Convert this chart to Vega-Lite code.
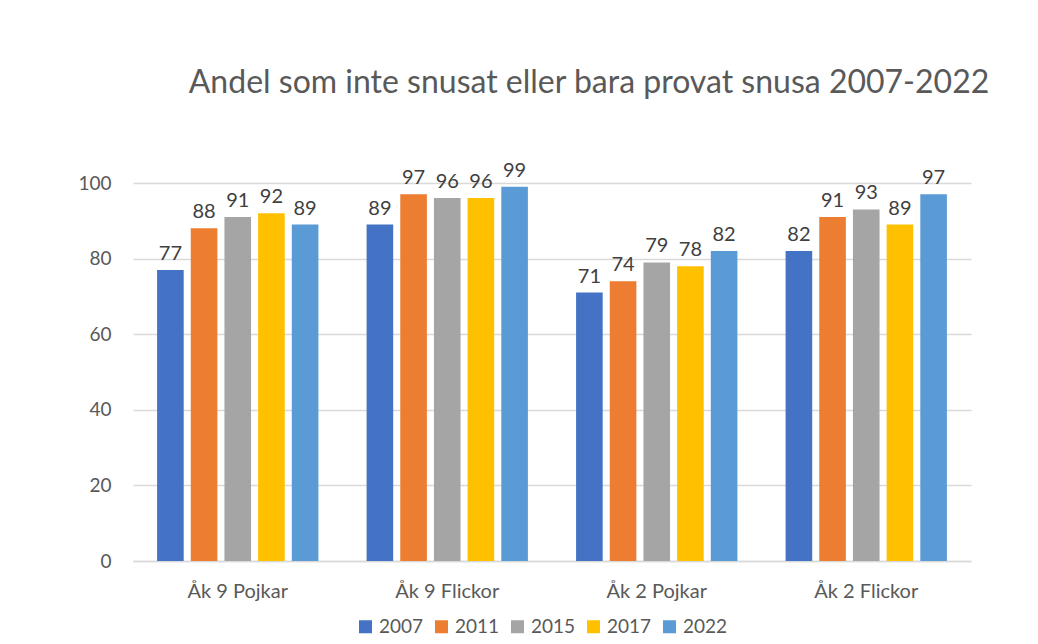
{
  "$schema": "https://vega.github.io/schema/vega-lite/v6.json",
  "autosize": {"type": "none"},
  "width": 838,
  "height": 378,
  "padding": {"left": 133, "top": 183, "right": 67, "bottom": 83},
  "background": "white",
  "title": {
    "text": "Andel som inte snusat eller bara provat snusa 2007-2022",
    "font": "Lato",
    "fontSize": 32,
    "fontWeight": "normal",
    "color": "#595959",
    "anchor": "middle",
    "frame": "group",
    "dx": 37,
    "offset": 61
  },
  "data": {
    "values": [
      {"grupp": "Åk 9 Pojkar", "år": "2007", "andel": 77},
      {"grupp": "Åk 9 Pojkar", "år": "2011", "andel": 88},
      {"grupp": "Åk 9 Pojkar", "år": "2015", "andel": 91},
      {"grupp": "Åk 9 Pojkar", "år": "2017", "andel": 92},
      {"grupp": "Åk 9 Pojkar", "år": "2022", "andel": 89},
      {"grupp": "Åk 9 Flickor", "år": "2007", "andel": 89},
      {"grupp": "Åk 9 Flickor", "år": "2011", "andel": 97},
      {"grupp": "Åk 9 Flickor", "år": "2015", "andel": 96},
      {"grupp": "Åk 9 Flickor", "år": "2017", "andel": 96},
      {"grupp": "Åk 9 Flickor", "år": "2022", "andel": 99},
      {"grupp": "Åk 2 Pojkar", "år": "2007", "andel": 71},
      {"grupp": "Åk 2 Pojkar", "år": "2011", "andel": 74},
      {"grupp": "Åk 2 Pojkar", "år": "2015", "andel": 79},
      {"grupp": "Åk 2 Pojkar", "år": "2017", "andel": 78},
      {"grupp": "Åk 2 Pojkar", "år": "2022", "andel": 82},
      {"grupp": "Åk 2 Flickor", "år": "2007", "andel": 82},
      {"grupp": "Åk 2 Flickor", "år": "2011", "andel": 91},
      {"grupp": "Åk 2 Flickor", "år": "2015", "andel": 93},
      {"grupp": "Åk 2 Flickor", "år": "2017", "andel": 89},
      {"grupp": "Åk 2 Flickor", "år": "2022", "andel": 97}
    ]
  },
  "encoding": {
    "x": {
      "field": "grupp",
      "type": "nominal",
      "sort": ["Åk 9 Pojkar", "Åk 9 Flickor", "Åk 2 Pojkar", "Åk 2 Flickor"],
      "scale": {"paddingInner": 0.23, "paddingOuter": 0.115},
      "axis": {
        "title": null,
        "labelAngle": 0,
        "labelFont": "Lato",
        "labelFontSize": 20,
        "labelColor": "#595959",
        "labelPadding": 20,
        "ticks": false,
        "domain": true,
        "domainColor": "#D9D9D9",
        "domainWidth": 1.5,
        "grid": false
      }
    },
    "xOffset": {
      "field": "år",
      "type": "nominal",
      "scale": {"paddingInner": 0.21, "paddingOuter": 0}
    },
    "y": {
      "field": "andel",
      "type": "quantitative",
      "scale": {"domain": [0, 100], "nice": false},
      "axis": {
        "title": null,
        "values": [0, 20, 40, 60, 80, 100],
        "labelFont": "Lato",
        "labelFontSize": 19,
        "labelColor": "#595959",
        "labelPadding": 22,
        "ticks": false,
        "domain": false,
        "grid": true,
        "gridColor": "#D9D9D9",
        "gridWidth": 1.5
      }
    }
  },
  "layer": [
    {
      "mark": {"type": "bar"},
      "encoding": {
        "color": {
          "field": "år",
          "type": "nominal",
          "scale": {
            "domain": ["2007", "2011", "2015", "2017", "2022"],
            "range": ["#4472C4", "#ED7D31", "#A5A5A5", "#FFC000", "#5B9BD5"]
          },
          "legend": {
            "title": null,
            "orient": "none",
            "legendX": 223,
            "legendY": 434,
            "direction": "horizontal",
            "symbolType": "square",
            "symbolSize": 169,
            "symbolStrokeWidth": 0,
            "symbolOpacity": 1,
            "labelFont": "Lato",
            "labelFontSize": 19,
            "labelColor": "#595959",
            "labelOffset": 4,
            "columnPadding": 8
          }
        }
      }
    },
    {
      "mark": {
        "type": "text",
        "baseline": "bottom",
        "dy": -6,
        "font": "Lato",
        "fontSize": 20,
        "color": "#404040"
      },
      "encoding": {"text": {"field": "andel", "type": "quantitative"}}
    }
  ],
  "config": {"view": {"stroke": null}}
}
